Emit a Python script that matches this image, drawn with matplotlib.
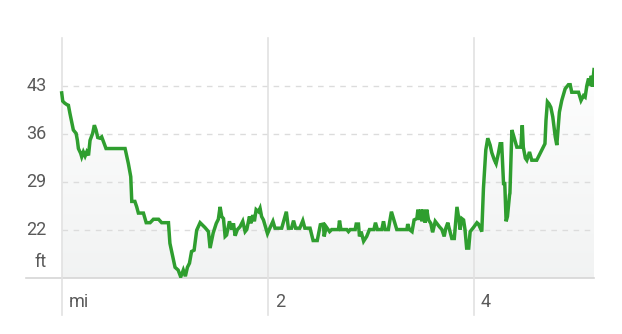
import numpy as np
import matplotlib.pyplot as plt
from matplotlib.lines import Line2D

plt.rcParams['font.family'] = ['Roboto', 'DejaVu Sans']

# elevation profile (distance in mi, elevation in ft)
dist_mi = [0, 0.01, 0.03, 0.05, 0.065, 0.08, 0.097, 0.113, 0.14, 0.152, 0.162, 0.184,
           0.194, 0.21, 0.227, 0.243, 0.26, 0.275, 0.30, 0.317, 0.333, 0.35, 0.372,
           0.388, 0.405, 0.43, 0.615, 0.647, 0.67, 0.68, 0.71, 0.728, 0.744, 0.793,
           0.82, 0.858, 0.89, 0.94, 0.97, 1.036, 1.05, 1.084, 1.10, 1.13, 1.155, 1.18,
           1.2, 1.22, 1.24, 1.26, 1.285, 1.31, 1.343, 1.39, 1.424, 1.44, 1.47, 1.5,
           1.52, 1.537, 1.553, 1.57, 1.586, 1.6, 1.628, 1.65, 1.667, 1.683, 1.705,
           1.73, 1.757, 1.78, 1.796, 1.822, 1.835, 1.854, 1.87, 1.887, 1.91, 1.925,
           1.94, 1.958, 1.974, 1.997, 2.02, 2.05, 2.07, 2.135, 2.18, 2.2, 2.23, 2.25,
           2.27, 2.31, 2.34, 2.36, 2.41, 2.44, 2.48, 2.51, 2.54, 2.547, 2.567, 2.6,
           2.62, 2.686, 2.696, 2.71, 2.767, 2.783, 2.8, 2.848, 2.858, 2.88, 2.89,
           2.906, 2.93, 2.96, 2.987, 3.03, 3.045, 3.064, 3.106, 3.123, 3.139, 3.17,
           3.2, 3.226, 3.252, 3.35, 3.358, 3.375, 3.4, 3.42, 3.447, 3.457, 3.473,
           3.485, 3.495, 3.51, 3.527, 3.543, 3.56, 3.582, 3.6, 3.625, 3.666, 3.69,
           3.712, 3.728, 3.747, 3.76, 3.786, 3.81, 3.836, 3.858, 3.866, 3.883, 3.9,
           3.914, 3.93, 3.95, 3.964, 3.996, 4.03, 4.045, 4.077, 4.093, 4.116, 4.135,
           4.158, 4.174, 4.2, 4.216, 4.238, 4.255, 4.27, 4.288, 4.3, 4.313, 4.326,
           4.346, 4.35, 4.369, 4.385, 4.417, 4.456, 4.47, 4.48, 4.5, 4.514, 4.54,
           4.562, 4.61, 4.643, 4.69, 4.7, 4.714, 4.73, 4.747, 4.766, 4.79, 4.805,
           4.83, 4.853, 4.886, 4.918, 4.935, 4.95, 5.016, 5.04, 5.064, 5.08, 5.097,
           5.113, 5.13, 5.14, 5.15, 5.166]
elev_ft = [42.0, 40.8, 40.5, 40.3, 40.2, 39.0, 37.8, 36.6, 36.1, 35.1, 33.9, 33.2,
           32.7, 33.4, 32.8, 33.4, 32.9, 35.1, 36.1, 37.3, 36.6, 35.5, 35.4,
           35.6, 34.9, 33.9, 33.9, 31.7, 29.8, 26.2, 26.2, 25.4, 24.5, 24.5,
           23.1, 23.1, 23.6, 23.6, 23.1, 23.1, 20.1, 17.7, 16.6, 16.2, 15.2, 16.2,
           15.3, 16.6, 17.2, 18.9, 19.1, 22.0, 23.1, 22.4, 21.8, 19.4, 21.6, 23.0,
           23.6, 25.4, 24.0, 23.7, 21.1, 21.3, 23.3, 22.1, 23.0, 21.2, 22.1,
           22.5, 23.3, 21.8, 22.1, 24.0, 23.0, 24.2, 23.3, 25.0, 24.7, 25.2,
           24.0, 23.5, 22.7, 21.5, 22.3, 23.3, 22.3, 22.3, 24.7, 22.3, 22.3, 23.4,
           22.3, 22.3, 23.4, 22.3, 22.3, 20.5, 20.5, 22.8, 22.9, 21.1, 22.5, 21.8,
           22.1, 22.1, 23.4, 22.1, 22.1, 21.8, 22.1, 22.1, 22.9, 22.9, 21.1,
           21.8, 20.4, 21.1, 22.1, 22.1, 23.1, 22.1, 22.1, 23.3, 22.1, 22.1,
           24.7, 23.4, 22.1, 22.1, 22.9, 22.1, 21.8, 23.5, 23.7, 25.0, 23.5,
           25.0, 23.3, 25.0, 23.1, 25.0, 23.5, 23.0, 21.7, 23.3, 22.5, 22.1,
           21.1, 22.3, 23.1, 22.3, 20.8, 20.8, 25.4, 23.3, 22.1, 23.7, 23.5,
           22.1, 19.4, 19.4, 21.8, 22.4, 23.1, 22.9, 21.8, 28.1, 33.7, 35.4,
           34.4, 33.3, 32.2, 31.7, 33.2, 34.6, 34.6, 28.8, 28.8, 23.3, 24.0,
           27.1, 27.4, 36.6, 35.8, 34.1, 34.1, 37.3, 34.1, 32.5, 32.2, 33.4,
           32.2, 32.2, 33.2, 34.6, 38.0, 40.7, 40.4, 39.9, 38.5, 35.6, 34.4,
           39.2, 40.9, 42.6, 43.2, 43.2, 42.1, 42.1, 40.9, 41.6, 41.4, 43.1,
           44.1, 43.1, 44.5, 42.9, 45.4]

y_ticks = [22, 29, 36, 43]
x_ticks = [0, 2, 4]
x_labels = ['mi', '2', '4']

line_color = '#2f9e2f'
grid_color = '#dcdcdc'
text_color = '#5a5a5a'

fig = plt.figure(figsize=(6.22, 3.34), dpi=100)
W, H = 622, 334
x0_px, x_end_px = 26, 594
top_px, bot_px = 38, 278.3
ax = fig.add_axes([x0_px / W, 1 - bot_px / H, (x_end_px - x0_px) / W, (bot_px - top_px) / H])

xmax = dist_mi[-1]
px_per_mi = 103.0
xlim = (-(61.7 - x0_px) / px_per_mi, xmax)
ax.axis('off')

# gradient fill under the line
poly = ax.fill_between(dist_mi, elev_ft, 15, color='none', lw=0)
grad = np.linspace(0, 1, 256).reshape(-1, 1)
top_c = np.array([1.0, 1.0, 1.0])
bot_c = np.array([0.947, 0.952, 0.952])
img = (top_c + (bot_c - top_c) * grad).reshape(256, 1, 3)
im = ax.imshow(img, extent=[0, xmax, 15, 50], origin='upper', aspect='auto', zorder=1)
im.set_clip_path(poly.get_paths()[0], transform=ax.transData)
ax.set_xlim(*xlim)
ax.set_ylim(15, 50)

# dashed horizontal grid
ax.hlines(y_ticks, 0, xmax, colors=grid_color, linestyles=(0, (4, 4)), lw=1, zorder=2)
# bottom axis line
ax.plot([xlim[0], xmax], [15, 15], color='#d6d6d6', lw=1.2, zorder=2, clip_on=False)

# vertical grid lines extending below the axis
trans = ax.get_xaxis_transform()
for xv in x_ticks:
    ax.add_line(Line2D([xv, xv], [1, -(315 - bot_px) / (bot_px - top_px)], transform=trans,
                       color='#e2e2e2', lw=1.2, zorder=2, clip_on=False))

ax.plot(dist_mi, elev_ft, color=line_color, lw=2.5, zorder=3, solid_joinstyle='miter')

# tick labels
for yv in y_ticks:
    ax.annotate(str(yv), xy=(0, yv), xytext=(-15, 0), textcoords='offset pixels',
                ha='right', va='center', fontsize=13, color=text_color)
ax.annotate('ft', xy=(0, 15), xytext=(-15, 16), textcoords='offset pixels',
            ha='right', va='center', fontsize=13, color=text_color)
for xv, lab in zip(x_ticks, x_labels):
    ax.annotate(lab, xy=(xv, 15), xytext=(7, -24), textcoords='offset pixels',
                ha='left', va='center', fontsize=13, color=text_color, annotation_clip=False)

fig.savefig('out.png', dpi=100, facecolor='white')
